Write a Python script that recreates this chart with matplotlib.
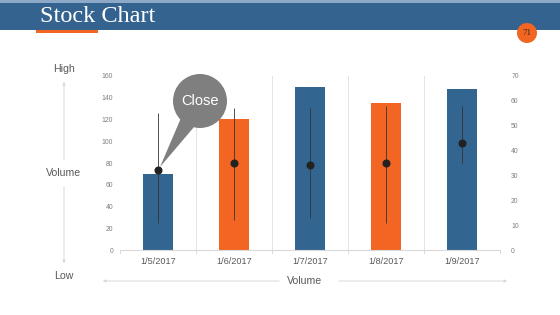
import matplotlib
matplotlib.use("Agg")
import matplotlib.pyplot as plt
from matplotlib.patches import Polygon, Rectangle, Ellipse, FancyArrowPatch
import numpy as np

dates = ["1/5/2017", "1/6/2017", "1/7/2017", "1/8/2017", "1/9/2017"]
volume = [70, 120, 150, 135, 148]
high = [55, 57, 57, 58, 58]
low = [11, 12, 13, 11, 35]
close = [32, 35, 34, 35, 43]
bar_colors = ["#336591", "#F26522", "#336591", "#F26522", "#336591"]
left_ticks = [0, 20, 40, 60, 80, 100, 120, 140, 160]
right_ticks = [0, 10, 20, 30, 40, 50, 60, 70]

W, H = 560, 315
fig = plt.figure(figsize=(W / 100, H / 100), dpi=100)
fig.patch.set_facecolor("white")

def fx(x):
    return x / W

def fy(y):
    return 1 - y / H

# Header
fig.add_artist(Rectangle((0, fy(3)), 1, 3 / H, transform=fig.transFigure, color="#8DA9C8", lw=0))
fig.add_artist(Rectangle((0, fy(30)), 1, 27 / H, transform=fig.transFigure, color="#35638F", lw=0))
fig.add_artist(Rectangle((fx(36), fy(33)), 62 / W, 3 / H, transform=fig.transFigure, color="#F26522", lw=0))
fig.text(fx(40), fy(16), "Stock Chart", family="Liberation Serif", fontsize=17.5, color="white",
         va="center", ha="left")

sans = "Liberation Sans"

# Main axes
ax = fig.add_axes([fx(120), fy(250.3), (500 - 120) / W, (250.3 - 75.7) / H])
x = np.arange(len(dates))
ax.bar(x, volume, width=0.39, color=bar_colors, zorder=2)
ax.set_xlim(-0.5, len(dates) - 0.5)
ax.set_ylim(0, 160)
ax.set_yticks(left_ticks)
ax.set_yticklabels([str(t) for t in left_ticks], family=sans, fontsize=4.9, color="#7F7F7F")
ax.set_xticks(x)
ax.set_xticklabels(dates, family=sans, fontsize=6.6, color="#595959")
ax.tick_params(axis="x", length=0, pad=5)
ax.tick_params(axis="y", length=0, pad=5)
for s in ["top", "right", "left"]:
    ax.spines[s].set_visible(False)
ax.spines["bottom"].set_color("#D9D9D9")
ax.spines["bottom"].set_linewidth(0.8)
for b in np.arange(-0.5, len(dates), 1.0):
    if -0.5 < b < len(dates) - 0.5:
        ax.axvline(b, color="#E3E3E3", lw=0.7, zorder=1)
    ax.plot([b, b], [0, -2.5], color="#D9D9D9", lw=0.7, clip_on=False)

ax2 = ax.twinx()
ax2.set_ylim(0, 70)
ax2.set_yticks(right_ticks)
ax2.set_yticklabels([str(t) for t in right_ticks], family=sans, fontsize=4.9, color="#7F7F7F")
ax2.tick_params(axis="y", length=0, pad=8)
for s in ["top", "right", "left", "bottom"]:
    ax2.spines[s].set_visible(False)
ax2.vlines(x, low, high, color="#333333", lw=0.6, zorder=3)
ax2.plot(x, close, "o", color="#222222", markersize=4.8, zorder=4, ls="none")

# Close callout
cx, cy, r = 200, 101, 27
fig.add_artist(Polygon([(fx(181), fy(118)), (fx(194), fy(127)), (fx(160), fy(167))],
                       closed=True, transform=fig.transFigure, color="#7F7F7F", lw=0))
fig.add_artist(Ellipse((fx(cx), fy(cy)), 2 * r / W, 2 * r / H, transform=fig.transFigure,
                       color="#7F7F7F", lw=0))
fig.text(fx(cx), fy(cy), "Close", family=sans, fontsize=10.5, color="white", ha="center", va="center")

# Page number
fig.add_artist(Ellipse((fx(527), fy(33)), 20 / W, 20 / H, transform=fig.transFigure,
                       color="#F26522", lw=0))
fig.text(fx(527), fy(33), "71", family="Liberation Serif", fontsize=6.5, color="#3A2A20",
         ha="center", va="center")

# Left labels and arrows
gray_txt = "#595959"
fig.text(fx(64), fy(69), "High", family=sans, fontsize=7.6, color=gray_txt, ha="center", va="center")
fig.text(fx(64), fy(173), "Volume", family=sans, fontsize=7.6, color=gray_txt, ha="center", va="center")
fig.text(fx(64), fy(276), "Low", family=sans, fontsize=7.6, color=gray_txt, ha="center", va="center")
arrow_kw = dict(arrowstyle="-|>", color="#D9D9D9", lw=0.7, mutation_scale=4)
fig.add_artist(FancyArrowPatch((fx(64), fy(163)), (fx(64), fy(79)),
                               transform=fig.transFigure, **arrow_kw))
fig.add_artist(FancyArrowPatch((fx(64), fy(184)), (fx(64), fy(266)),
                               transform=fig.transFigure, **arrow_kw))
# Bottom label and arrows
fig.text(fx(305), fy(281), "Volume", family=sans, fontsize=7.6, color=gray_txt, ha="center", va="center")
fig.add_artist(FancyArrowPatch((fx(282), fy(281)), (fx(100), fy(281)),
                               transform=fig.transFigure, **arrow_kw))
fig.add_artist(FancyArrowPatch((fx(336), fy(281)), (fx(510), fy(281)),
                               transform=fig.transFigure, **arrow_kw))

fig.savefig("out.png", dpi=100, facecolor="white")
